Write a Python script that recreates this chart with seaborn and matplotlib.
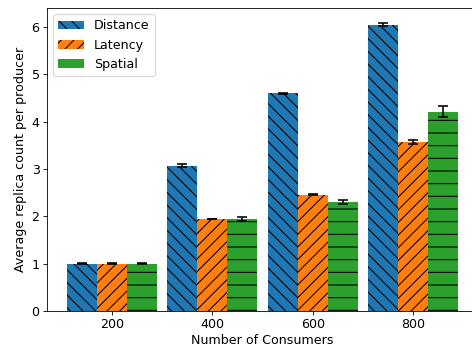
import numpy as np
import pandas as pd
import matplotlib
matplotlib.use("Agg")
import matplotlib.pyplot as plt
from matplotlib.patches import Patch
import seaborn as sns

# Number of consumers on the x axis
consumers = ["200", "400", "600", "800"]
methods = ["Distance", "Latency", "Spatial"]

# Mean replica count per producer for each placement method
distance = [1.00, 3.07, 4.60, 6.05]
latency = [1.00, 1.94, 2.46, 3.57]
spatial = [1.00, 1.94, 2.31, 4.21]

# Error bar half-widths
distance_err = [0.005, 0.03, 0.015, 0.035]
latency_err = [0.005, 0.005, 0.01, 0.05]
spatial_err = [0.005, 0.035, 0.04, 0.11]

colors = ["#1f77b4", "#ff7f0e", "#2ca02c"]
hatches = ["\\\\", "//", "-"]

values = {"Distance": distance, "Latency": latency, "Spatial": spatial}
errors = {"Distance": distance_err, "Latency": latency_err, "Spatial": spatial_err}

df = pd.DataFrame(
    [(c, m, values[m][i]) for m in methods for i, c in enumerate(consumers)],
    columns=["consumers", "method", "count"],
)

DPI = 76
plt.rcParams["font.size"] = 12
plt.rcParams["hatch.linewidth"] = 1.0

fig = plt.figure(figsize=(472 / DPI, 347 / DPI), dpi=DPI)
W, H = 472, 347
ax = fig.add_axes([47 / W, (H - 311) / H, (478 - 47) / W, (311 - 8) / H])

sns.barplot(
    data=df, x="consumers", y="count", hue="method",
    order=consumers, hue_order=methods, palette=colors,
    errorbar=None, width=0.9, legend=False, ax=ax, saturation=1,
)

for container, m, color, hatch in zip(ax.containers, methods, colors, hatches):
    xs = []
    for bar in container:
        bar.set_facecolor(color)
        bar.set_edgecolor("black")
        bar.set_linewidth(0)
        bar.set_hatch(hatch)
        xs.append(bar.get_x() + bar.get_width() / 2)
    ax.errorbar(xs, values[m], yerr=errors[m], fmt="none",
                ecolor="black", elinewidth=1.5, capsize=5, capthick=1.5)

ax.set_xlabel("Number of Consumers", labelpad=2.5)
ax.set_ylabel("Average replica count per producer")
ax.set_xlim(-0.645, 3.645)
ax.set_ylim(0, 6.40)

handles = [Patch(facecolor=c, edgecolor="black", linewidth=0, hatch=h, label=m)
           for c, h, m in zip(colors, hatches, methods)]
ax.legend(handles=handles, loc="upper left")

fig.savefig("out.png", dpi=DPI)
